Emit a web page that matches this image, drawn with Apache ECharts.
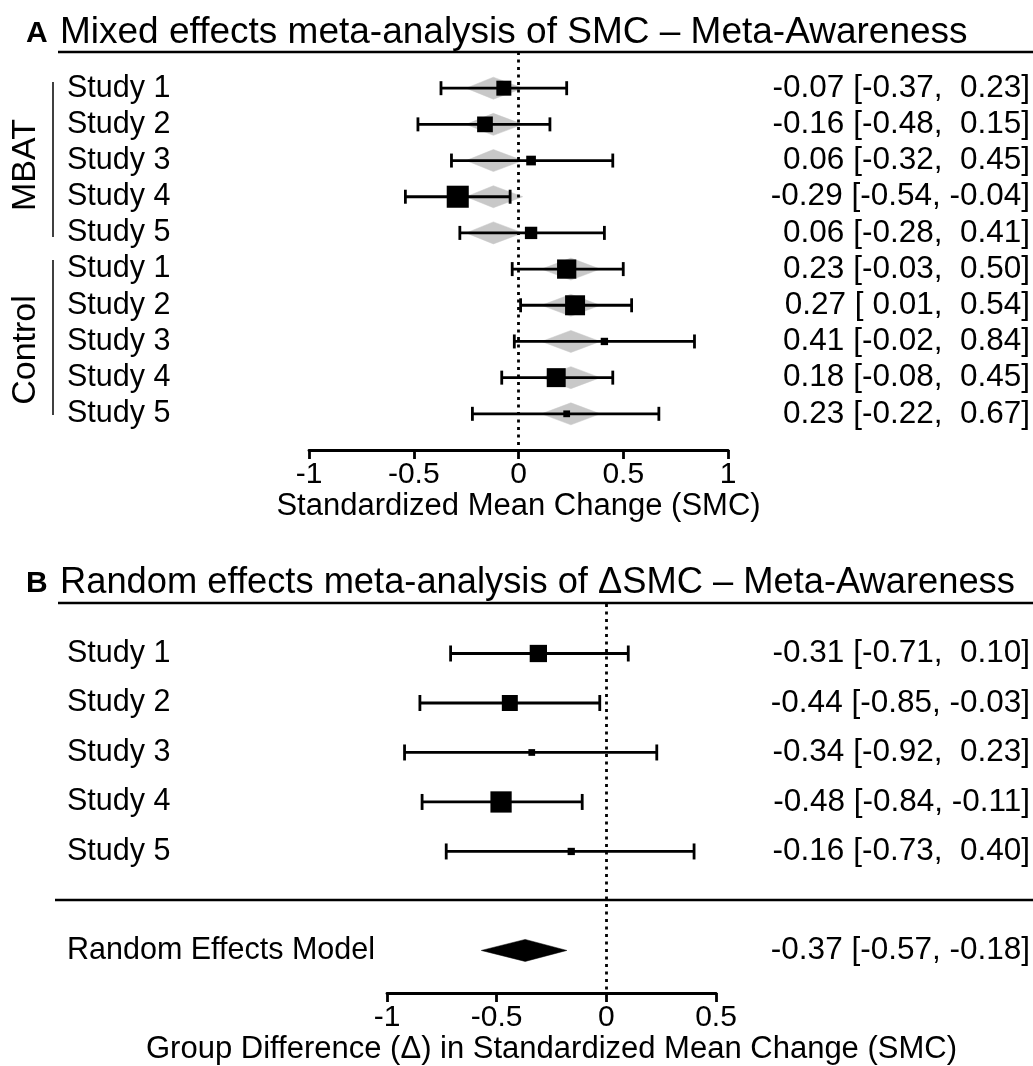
<!DOCTYPE html>
<html><head><meta charset="utf-8">
<script src="https://cdn.jsdelivr.net/npm/echarts@6/dist/echarts.min.js"></script>
<style>html,body{margin:0;padding:0;background:#fff}#c{width:1033px;height:1066px}</style>
</head><body><div id="c"></div>
<script>
// ---------- Panel A data ----------
const studyA = ['Study 1','Study 2','Study 3','Study 4','Study 5','Study 1','Study 2','Study 3','Study 4','Study 5'];
const groupOfA = [0,0,0,0,0,1,1,1,1,1];
const estA = [-0.07,-0.16,0.06,-0.29,0.06,0.23,0.27,0.41,0.18,0.23];
const loA  = [-0.37,-0.48,-0.32,-0.54,-0.28,-0.03,0.01,-0.02,-0.08,-0.22];
const hiA  = [0.23,0.15,0.45,-0.04,0.41,0.50,0.54,0.84,0.45,0.67];
const weightA = [10.2,10.7,6.6,15.0,8.4,13.1,13.6,5.0,12.9,4.6];
const groupNames = ['MBAT','Control'];
const groupEst = [-0.12, 0.25];
const groupLo  = [-0.25, 0.11];
const groupHi  = [0.02, 0.39];
const ticksA = [-1,-0.5,0,0.5,1];

// ---------- Panel B data ----------
const studyB = ['Study 1','Study 2','Study 3','Study 4','Study 5'];
const estB = [-0.31,-0.44,-0.34,-0.48,-0.16];
const loB  = [-0.71,-0.85,-0.92,-0.84,-0.73];
const hiB  = [0.10,-0.03,0.23,-0.11,0.40];
const weightB = [25.2,23.3,9.8,31.0,10.6];
const reLabel = 'Random Effects Model';
const reEst = -0.37, reLo = -0.57, reHi = -0.18;
const ticksB = [-1,-0.5,0,0.5];

// ---------- helpers ----------
const FONT = "'Liberation Sans', Arial, Helvetica, sans-serif";
const pad = v => (v < 0 ? '-' : ' ') + Math.abs(v).toFixed(2);
const ciText = (e,l,h) => e.toFixed(2) + ' [' + pad(l) + ', ' + pad(h) + ']';

const rowsLeftA = studyA.slice();
const rowsRightA = estA.map((e,i)=>ciText(e,loA[i],hiA[i]));
const rowsLeftB = studyB.concat(['', reLabel]);
const rowsRightB = estB.map((e,i)=>ciText(e,loB[i],hiB[i])).concat(['', ciText(reEst,reLo,reHi)]);

function rowFmt(arr){
  return function(v){
    const i = Math.round(v);
    if (Math.abs(v - i) > 1e-6 || i < 0 || i >= arr.length) return '';
    return arr[i];
  };
}
function tickFmt(ticks){
  return function(v){
    for (const t of ticks) if (Math.abs(v - t) < 1e-9) return String(t);
    return '';
  };
}

function ciRender(cap){
  return function(params, api){
    const lo = api.value(0), hi = api.value(1), r = api.value(2);
    const p1 = api.coord([lo, r]), p2 = api.coord([hi, r]);
    const st = {stroke:'#000', lineWidth:2.8};
    return {type:'group', children:[
      {type:'line', shape:{x1:p1[0],y1:p1[1],x2:p2[0],y2:p2[1]}, style:st},
      {type:'line', shape:{x1:p1[0],y1:p1[1]-cap,x2:p1[0],y2:p1[1]+cap}, style:st},
      {type:'line', shape:{x1:p2[0],y1:p2[1]-cap,x2:p2[0],y2:p2[1]+cap}, style:st}
    ]};
  };
}
function diamondRender(h, color){
  return function(params, api){
    const lo = api.value(0), e = api.value(1), hi = api.value(2), r = api.value(3);
    const a = api.coord([lo, r]), c = api.coord([e, r]), b = api.coord([hi, r]);
    return {type:'polygon', shape:{points:[[a[0],a[1]],[c[0],c[1]-h],[b[0],b[1]],[c[0],c[1]+h]]},
      style:{fill:color, stroke:color, lineWidth:0.5}};
  };
}

const dotted = {silent:true, symbol:'none', label:{show:false}, animation:false,
  lineStyle:{color:'#000', type:[3,4.5], width:2.8}, emphasis:{disabled:true}, data:[{xAxis:0}]};

const xAxisCommon = {
  type:'value', interval:0.5, nameLocation:'middle',
  axisLine:{show:true, onZero:false, lineStyle:{color:'#000', width:2.8}},
  axisTick:{show:true, length:9, lineStyle:{color:'#000', width:2.8}},
  axisLabel:{color:'#000', fontSize:30, fontFamily:FONT, margin:10},
  splitLine:{show:false},
  nameTextStyle:{color:'#000', fontSize:31, fontFamily:FONT}
};
function yAxisDef(gi, pos, arr, margin, align, min, max, fs){
  return {type:'value', gridIndex:gi, position:pos, inverse:true, min:min, max:max, interval:1,
    axisLine:{show:false}, axisTick:{show:false}, splitLine:{show:false},
    axisLabel:{show:true, formatter:rowFmt(arr), margin:margin, align:align, color:'#000',
      fontSize:fs, fontFamily:FONT}};
}

const chart = echarts.init(document.getElementById('c'), null, {renderer:'canvas'});
const option = {
  animation:false,
  backgroundColor:'#fff',
  grid:[
    {left:309, width:420, top:52, height:398},
    {left:387, width:330, top:604, height:389}
  ],
  xAxis:[
    Object.assign({}, xAxisCommon, {gridIndex:0, min:-1, max:1, name:'Standardized Mean Change (SMC)', nameGap:35,
      axisLabel:Object.assign({}, xAxisCommon.axisLabel, {formatter:tickFmt(ticksA)})}),
    Object.assign({}, xAxisCommon, {gridIndex:1, min:-1, max:0.5, name:'Group Difference (\u0394) in Standardized Mean Change (SMC)', nameGap:38,
      axisLabel:Object.assign({}, xAxisCommon.axisLabel, {formatter:tickFmt(ticksB)})})
  ],
  yAxis:[
    yAxisDef(0,'left', rowsLeftA, 242, 'left', -1, 10, 30.5),
    yAxisDef(0,'right', rowsRightA, 302, 'right', -1, 10, 31.5),
    yAxisDef(1,'left', rowsLeftB, 320, 'left', -1, 6.86, 30.5),
    yAxisDef(1,'right', rowsRightB, 314, 'right', -1, 6.86, 31.5)
  ],
  series:[
    // Panel A group diamonds (gray)
    {type:'custom', xAxisIndex:0, yAxisIndex:0, z:1,
      data: estA.map((e,i)=>{const g=groupOfA[i]; return [groupLo[g], groupEst[g], groupHi[g], i];}),
      encode:{x:[0,1,2], y:3}, renderItem: diamondRender(11, '#c8c8c8')},
    {type:'custom', xAxisIndex:0, yAxisIndex:0, z:3,
      data: estA.map((e,i)=>[loA[i], hiA[i], i]), encode:{x:[0,1], y:2}, renderItem: ciRender(7)},
    {type:'scatter', xAxisIndex:0, yAxisIndex:0, z:4, symbol:'rect',
      data: estA.map((e,i)=>[e, i, weightA[i]]),
      symbolSize: d => d[2]*1.47, itemStyle:{color:'#000', opacity:1}, markLine: dotted},
    // Panel B
    {type:'custom', xAxisIndex:1, yAxisIndex:2, z:3,
      data: estB.map((e,i)=>[loB[i], hiB[i], i]), encode:{x:[0,1], y:2}, renderItem: ciRender(8)},
    {type:'scatter', xAxisIndex:1, yAxisIndex:2, z:4, symbol:'rect',
      data: estB.map((e,i)=>[e, i, weightB[i]]),
      symbolSize: d => d[2]*0.686, itemStyle:{color:'#000', opacity:1}, markLine: dotted},
    {type:'custom', xAxisIndex:1, yAxisIndex:2, z:4,
      data: [[reLo, reEst, reHi, 6]], encode:{x:[0,1,2], y:3}, renderItem: diamondRender(11, '#000')}
  ],
  graphic:[
    {type:'text', x:26, y:34, style:{text:'A', font:'bold 30px '+FONT, fill:'#000', align:'left', verticalAlign:'middle'}},
    {type:'text', x:60, y:33, style:{text:'Mixed effects meta-analysis of SMC \u2013 Meta-Awareness', font:'37px '+FONT, fill:'#000', align:'left', verticalAlign:'middle'}},
    {type:'line', shape:{x1:58,y1:52,x2:1033,y2:52}, style:{stroke:'#000', lineWidth:2.5}},
    {type:'text', x:26, y:165, rotation:Math.PI/2, style:{text:groupNames[0], font:'34px '+FONT, fill:'#000', align:'center', verticalAlign:'middle'}},
    {type:'line', shape:{x1:53,y1:82,x2:53,y2:237}, style:{stroke:'#000', lineWidth:1.5}},
    {type:'text', x:26, y:350, rotation:Math.PI/2, style:{text:groupNames[1], font:'34px '+FONT, fill:'#000', align:'center', verticalAlign:'middle'}},
    {type:'line', shape:{x1:53,y1:260,x2:53,y2:415}, style:{stroke:'#000', lineWidth:1.5}},
    {type:'text', x:26, y:584, style:{text:'B', font:'bold 30px '+FONT, fill:'#000', align:'left', verticalAlign:'middle'}},
    {type:'text', x:60, y:583, style:{text:'Random effects meta-analysis of \u0394SMC \u2013 Meta-Awareness', font:'36.3px '+FONT, fill:'#000', align:'left', verticalAlign:'middle'}},
    {type:'line', shape:{x1:58,y1:603,x2:1033,y2:603}, style:{stroke:'#000', lineWidth:2.5}},
    {type:'line', shape:{x1:55,y1:900,x2:1033,y2:900}, style:{stroke:'#000', lineWidth:2.5}}
  ]
};
chart.setOption(option);
</script>
</body></html>
